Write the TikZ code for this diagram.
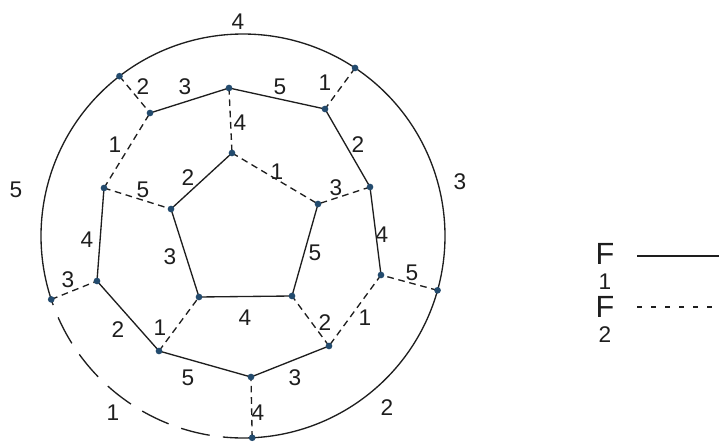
\documentclass[tikz,border=0pt]{standalone}
\usepackage{fontspec}
\setmainfont{Liberation Sans}
\usetikzlibrary{calc,backgrounds}
\definecolor{ink}{RGB}{30,30,30}
\definecolor{dotc}{RGB}{35,75,110}
\begin{document}
\begin{tikzpicture}[x=0.75pt,y=-0.75pt,
  edge/.style={draw=ink,line width=1pt},
  dedge/.style={edge,dash pattern=on 5pt off 3.5pt},
  ldash/.style={edge,dash pattern=on 22pt off 10pt},
  legdash/.style={edge,dash pattern=on 4pt off 6.5pt},
  lab/.style={text=ink,font=\fontsize{17}{17}\selectfont,inner sep=0pt},
  leg/.style={text=ink,font=\fontsize{23}{19}\selectfont,inner sep=0pt,align=center},
  vdot/.style={circle,fill=dotc,inner sep=0pt,minimum size=5pt}]
\useasboundingbox (0,0) rectangle (721,445);
\coordinate (C) at (243,236);
% outer vertices
\node[vdot] (o1) at ($(C)+(232.3:202)$) {};
\node[vdot] (o2) at ($(C)+(303.7:202)$) {};
\node[vdot] (o3) at ($(C)+(15.6:202)$) {};
\node[vdot] (o4) at ($(C)+(87.4:202)$) {};
\node[vdot] (o5) at ($(C)+(161.7:202)$) {};
% middle ring
\node[vdot] (m1) at (150,113) {};
\node[vdot] (m2) at (229,88) {};
\node[vdot] (m3) at (325,109) {};
\node[vdot] (m4) at (370,187) {};
\node[vdot] (m5) at (381,275) {};
\node[vdot] (m6) at (329,346) {};
\node[vdot] (m7) at (251,377) {};
\node[vdot] (m8) at (159,351) {};
\node[vdot] (m9) at (97,281) {};
\node[vdot] (m10) at (104,188) {};
% inner pentagon
\node[vdot] (p1) at (232,153) {};
\node[vdot] (p2) at (318,204) {};
\node[vdot] (p3) at (292,296) {};
\node[vdot] (p4) at (199,297) {};
\node[vdot] (p5) at (171,209) {};

\begin{scope}[on background layer]
% outer circle arcs
\draw[edge] (o1.center) arc[start angle=232.3, end angle=303.7, radius=202];
\draw[edge] (o2.center) arc[start angle=303.7, end angle=375.6, radius=202];
\draw[edge] (o3.center) arc[start angle=15.6, end angle=87.4, radius=202];
\draw[ldash] (o4.center) arc[start angle=87.4, end angle=161.7, radius=202];
\draw[edge] (o5.center) arc[start angle=161.7, end angle=232.3, radius=202];
% spokes outer-middle
\draw[dedge] (o1.center) -- (m1.center);
\draw[dedge] (o2.center) -- (m3.center);
\draw[dedge] (o3.center) -- (m5.center);
\draw[dedge] (o4.center) -- (m7.center);
\draw[dedge] (o5.center) -- (m9.center);
% middle ring
\draw[edge] (m1.center) -- (m2.center) -- (m3.center) -- (m4.center) -- (m5.center);
\draw[dedge] (m5.center) -- (m6.center);
\draw[edge] (m6.center) -- (m7.center) -- (m8.center) -- (m9.center) -- (m10.center);
\draw[dedge] (m10.center) -- (m1.center);
% spokes middle-inner
\draw[dedge] (m2.center) -- (p1.center);
\draw[dedge] (m4.center) -- (p2.center);
\draw[dedge] (m6.center) -- (p3.center);
\draw[dedge] (m8.center) -- (p4.center);
\draw[dedge] (m10.center) -- (p5.center);
% pentagon
\draw[dedge] (p1.center) -- (p2.center);
\draw[edge] (p2.center) -- (p3.center) -- (p4.center) -- (p5.center) -- (p1.center);
\end{scope}

% labels outer arcs
\node[lab] (la1) at (238,22) {4};
\node[lab] (la2) at (460,182) {3};
\node[lab] (la3) at (387,408) {2};
\node[lab] (la4) at (113,413) {1};
\node[lab] (la5) at (16,190) {5};
% labels outer spokes
\node[lab] (ls1) at (143,87) {2};
\node[lab] (ls2) at (325,83) {1};
\node[lab] (ls3) at (412,273) {5};
\node[lab] (ls4) at (258,413) {4};
\node[lab] (ls5) at (68,280) {3};
% labels middle ring
\node[lab] (lm1) at (185,87) {3};
\node[lab] (lm2) at (280,87) {5};
\node[lab] (lm3) at (358,145) {2};
\node[lab] (lm4) at (382,235) {4};
\node[lab] (lm5) at (365,318) {1};
\node[lab] (lm6) at (295,378) {3};
\node[lab] (lm7) at (188,378) {5};
\node[lab] (lm8) at (118,330) {2};
\node[lab] (lm9) at (87,240) {4};
\node[lab] (lm10) at (115,145) {1};
% labels inner spokes
\node[lab] (li1) at (240,123) {4};
\node[lab] (li2) at (336,188) {3};
\node[lab] (li3) at (325,323) {2};
\node[lab] (li4) at (160,328) {1};
\node[lab] (li5) at (143,190) {5};
% labels pentagon
\node[lab] (lp1) at (277,172) {1};
\node[lab] (lp2) at (315,253) {5};
\node[lab] (lp3) at (245,318) {4};
\node[lab] (lp4) at (170,257) {3};
\node[lab] (lp5) at (188,178) {2};

% legend
\node[leg,anchor=north] (f1) at (605,243) {F\\{\fontsize{17}{19}\selectfont 1}};
\node[leg,anchor=north] (f2) at (605,296) {F\\{\fontsize{17}{19}\selectfont 2}};
\coordinate (g1a) at (637,256);
\coordinate (g1b) at (719,256);
\coordinate (g2a) at (637,307);
\coordinate (g2b) at (719,307);
\draw[edge] (g1a) -- (g1b);
\draw[legdash] (g2a) -- (g2b);
\end{tikzpicture}
\end{document}
